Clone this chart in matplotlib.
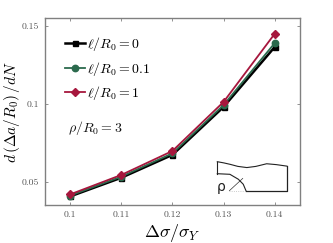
import matplotlib
matplotlib.use("Agg")
import matplotlib.pyplot as plt

plt.rcParams['mathtext.fontset'] = 'cm'
plt.rcParams['font.family'] = ['cmr10', 'DejaVu Sans']
plt.rcParams['axes.formatter.use_mathtext'] = True

stress = [0.10, 0.11, 0.12, 0.13, 0.14]
rate_0 = [0.0405, 0.0525, 0.0672, 0.0980, 0.1365]
rate_01 = [0.0410, 0.0532, 0.0682, 0.0992, 0.1390]
rate_1 = [0.0418, 0.0543, 0.0697, 0.1012, 0.1450]
x_ticks = [0.10, 0.11, 0.12, 0.13, 0.14]
x_labels = ['0.1', '0.11', '0.12', '0.13', '0.14']
y_ticks = [0.05, 0.10, 0.15]
y_labels = ['0.05', '0.1', '0.15']

top_x = [0, 2.5, 5, 8, 11.5, 15, 19.2, 23, 27]
top_y = [10, 9.6, 9.1, 8.4, 8.0, 8.4, 9.3, 9.0, 8.5]
notch_x = [0, 4.9, 8.2, 10.1, 11.2]
notch_y = [5.9, 5.7, 4.0, 2.3, 0]

fig = plt.figure(figsize=(3.33, 2.43), dpi=100)
ax = fig.add_axes([44.5/333, 1-205/243, (300.3-44.5)/333, (205-18.5)/243])
gray = '#808080'
for s in ax.spines.values():
    s.set_color(gray)
    s.set_linewidth(1.0)
for series, color, marker, ms, lw, label in [
    (rate_0, '#000000', 's', 3.6, 1.8, r'$\ell/R_0=0$'),
    (rate_01, '#2b6a4d', 'o', 4.6, 1.3, r'$\ell/R_0=0.1$'),
    (rate_1, '#a6173d', 'D', 3.8, 1.3, r'$\ell/R_0=1$'),
]:
    ax.plot(stress, series, color=color, marker=marker, ms=ms, lw=lw, label=label)
ax.set_xlim(0.095, 0.145)
ax.set_ylim(0.035, 0.1548)
ax.set_xticks(x_ticks, x_labels)
ax.set_yticks(y_ticks, y_labels)
ax.tick_params(direction='in', top=True, right=True, length=2.2, width=0.6, color=gray,
               labelsize=7, labelcolor='#555555', pad=4)
ax.set_xlabel(r'$\Delta\sigma/\sigma_Y$', fontsize=13, labelpad=2)
ax.set_ylabel(r'$d\,(\Delta a/R_0)\,/dN$', fontsize=11, labelpad=0)
ax.legend(loc='upper left', bbox_to_anchor=(0.08, 0.91), frameon=False, fontsize=10,
          handlelength=1.45, handletextpad=0.15, labelspacing=0.47, borderpad=0, borderaxespad=0)
ax.text(0.09, 0.415, r'$\rho/R_0=3$', transform=ax.transAxes, fontsize=10, va='center', ha='left', color='#111111')

ins = fig.add_axes([217.3/333, 1-191/243, 69.4/333, 30/243])
ins.axis('off')
ins.set_xlim(0, 27)
ins.set_ylim(0, 10.24)
ins.plot(top_x, top_y, color='#222222', lw=0.8, clip_on=False)
ins.plot([0, 0], [notch_y[0], top_y[0]], color='#222222', lw=0.8, clip_on=False)
ins.plot(notch_x, notch_y, color='#222222', lw=0.8, clip_on=False)
ins.plot([notch_x[-1], 27, 27], [0, 0, top_y[-1]], color='#222222', lw=0.9, clip_on=False)
ins.plot([4.7, notch_x[-1]], [0, 0], color='#bbbbbb', lw=0.6, ls=':', clip_on=False)
ins.plot([4.7, 9.9], [0.1, 4.3], color='#333333', lw=0.5)
ins.text(1.7, 1.5, 'ρ', fontsize=10, family='DejaVu Sans', ha='center', va='center', color='#222222')

fig.savefig('out.png', dpi=100)
